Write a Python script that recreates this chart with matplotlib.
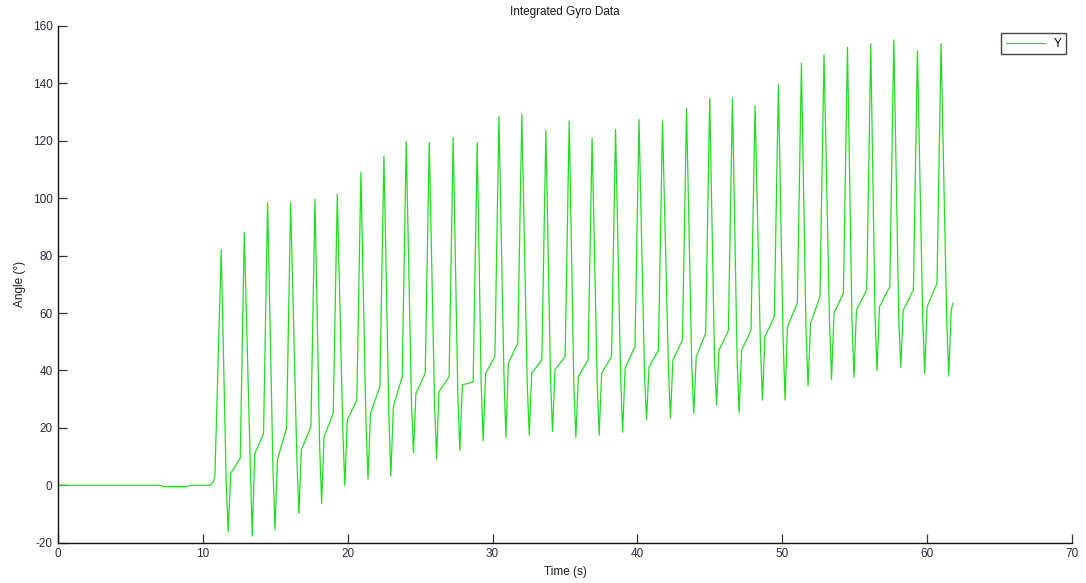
import numpy as np
import matplotlib
matplotlib.use("Agg")
import matplotlib.pyplot as plt

plt.rcParams['font.family'] = ['Liberation Sans', 'DejaVu Sans']
plt.rcParams['axes.unicode_minus'] = False

# Quiet lead-in before the motion starts (s, deg)
lead_t = [0.0, 7.04, 7.27, 8.88, 9.11, 10.49, 10.70, 10.83]
lead_y = [0.0, 0.0, -0.45, -0.45, 0.0, 0.0, 1.0, 3.0]

# Swing maxima
peak_t = [11.27, 12.86, 14.47, 16.06, 17.74, 19.28, 20.91, 22.50, 24.04, 25.63,
          27.28, 28.94, 30.44, 32.02, 33.68, 35.29, 36.87, 38.49, 40.11, 41.73,
          43.39, 44.99, 46.56, 48.12, 49.73, 51.32, 52.88, 54.50, 56.11, 57.70,
          59.33, 60.96]
peak_y = [82.0, 88.0, 98.5, 98.5, 99.6, 101.4, 109.0, 114.7, 119.7, 119.4,
          121.1, 119.4, 128.4, 129.4, 123.6, 127.0, 120.9, 124.0, 127.4, 126.8,
          131.3, 134.8, 134.8, 132.2, 139.5, 147.0, 149.9, 152.6, 153.8, 155.2,
          151.4, 153.8]

# Bend on the way down, just before each minimum
fall_t = [11.61, 13.27, 14.84, 16.49, 18.06, 19.66, 21.26, 22.84, 24.40, 25.99,
          27.60, 29.21, 30.78, 32.39, 34.00, 35.61, 37.22, 38.84, 40.49, 42.14,
          43.75, 45.32, 46.88, 48.49, 50.05, 51.64, 53.26, 54.81, 56.40, 58.04,
          59.69, 61.35]
fall_y = [1.2, 8.0, 6.0, 9.3, 14.0, 19.7, 22.0, 24.4, 29.0, 29.6,
          32.0, 36.0, 39.5, 36.0, 37.2, 34.8, 36.0, 37.8, 38.3, 40.7,
          41.8, 44.0, 44.0, 48.8, 52.3, 53.4, 57.0, 58.0, 59.2, 58.0,
          59.2, 58.0]

# Swing minima
trough_t = [11.75, 13.41, 14.98, 16.63, 18.20, 19.80, 21.40, 22.98, 24.54, 26.13,
            27.74, 29.35, 30.92, 32.53, 34.14, 35.75, 37.36, 38.98, 40.63, 42.28,
            43.89, 45.46, 47.02, 48.63, 50.19, 51.78, 53.40, 54.95, 56.54, 58.18,
            59.83, 61.49]
trough_y = [-16.2, -17.7, -15.6, -9.8, -6.3, -0.1, 2.1, 3.2, 11.3, 9.1,
            12.1, 15.5, 16.7, 17.5, 18.7, 16.7, 17.5, 18.5, 22.8, 23.3,
            25.1, 28.0, 25.3, 29.7, 29.7, 34.6, 36.9, 37.6, 39.9, 41.1,
            39.0, 38.1]

# Shoulder reached just after each minimum
knee_t = [11.92, 13.58, 15.15, 16.80, 18.37, 19.97, 21.57, 23.15, 24.71, 26.30,
          27.91, 29.52, 31.09, 32.70, 34.31, 35.92, 37.53, 39.15, 40.80, 42.45,
          44.06, 45.63, 47.19, 48.80, 50.36, 51.95, 53.57, 55.12, 56.71, 58.35,
          60.00, 61.66]
knee_y = [4.2, 11.0, 9.0, 12.3, 17.0, 22.7, 25.0, 27.4, 32.0, 32.6,
          35.0, 39.0, 42.5, 39.0, 40.2, 37.8, 39.0, 40.8, 41.3, 43.7,
          44.8, 47.0, 47.0, 51.8, 55.3, 56.4, 60.0, 61.0, 62.2, 61.0,
          62.2, 61.0]

# Level where the fast climb to the next maximum begins
climb_t = [12.58, 14.19, 15.78, 17.46, 19.00, 20.63, 22.22, 23.76, 25.35, 27.00,
           28.66, 30.16, 31.74, 33.40, 35.01, 36.59, 38.21, 39.83, 41.45, 43.11,
           44.71, 46.28, 47.84, 49.45, 51.04, 52.60, 54.22, 55.83, 57.42, 59.05,
           60.68]
climb_y = [9.4, 18.0, 20.0, 20.4, 25.0, 29.7, 34.4, 37.8, 39.0, 37.8,
           36.0, 44.8, 49.5, 43.7, 44.8, 43.7, 44.8, 48.3, 47.0, 50.6,
           53.0, 54.0, 54.0, 58.7, 63.4, 65.7, 66.9, 68.0, 69.2, 68.0,
           70.4]

# Last sample
end_t = [61.79]
end_y = [63.4]

# Assemble the trace in time order
t = list(lead_t)
y = list(lead_y)
for i in range(len(peak_t)):
    t += [peak_t[i], fall_t[i], trough_t[i], knee_t[i]]
    y += [peak_y[i], fall_y[i], trough_y[i], knee_y[i]]
    if i < len(climb_t):
        t.append(climb_t[i])
        y.append(climb_y[i])
t += end_t
y += end_y

fig = plt.figure(figsize=(10.86, 5.83), dpi=100)
ax = fig.add_axes([58 / 1086, 40.3 / 583, (1072 - 58) / 1086, (542.7 - 26) / 583])

ax.plot(t, y, color='#22dd22', linewidth=0.9, label='Y')

ax.set_xlim(0, 70)
ax.set_ylim(-20, 160)
ax.set_xticks(np.arange(0, 71, 10))
ax.set_yticks(np.arange(-20, 161, 20))

for side in ('top', 'right'):
    ax.spines[side].set_visible(False)
for side in ('left', 'bottom'):
    ax.spines[side].set_linewidth(1.0)
    ax.spines[side].set_color('#111111')

ax.tick_params(direction='in', length=6.5, width=0.9, color='#333333',
               labelsize=8.5, labelcolor='#2a2a3a', pad=4)

ax.set_title('Integrated Gyro Data', fontsize=8.5, color='#1a1a1a', pad=8)
ax.set_xlabel('Time (s)', fontsize=8.5, color='#1a1a1a', labelpad=4)
ax.set_ylabel('Angle (°)', fontsize=8.5, color='#1a1a1a', labelpad=5)

leg = ax.legend(loc='upper right', bbox_to_anchor=(1066 / 1086, 1 - 33 / 583),
                bbox_transform=fig.transFigure, borderaxespad=0,
                fontsize=8.5, handlelength=3.3, handletextpad=0.7,
                borderpad=0.4, fancybox=False, framealpha=1)
leg.get_frame().set_edgecolor('#444444')
leg.get_frame().set_linewidth(1.0)

fig.savefig('out.png', dpi=100)
